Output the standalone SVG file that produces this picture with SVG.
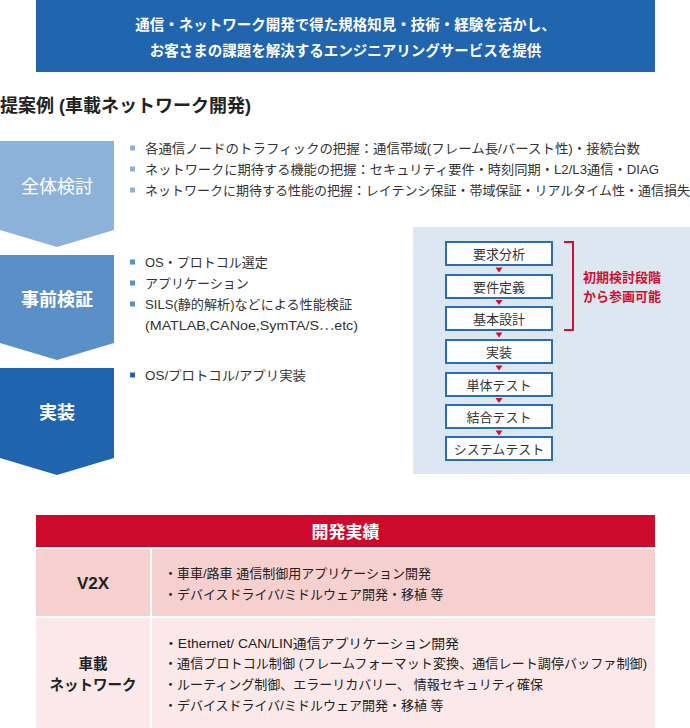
<svg xmlns="http://www.w3.org/2000/svg" width="690" height="728" viewBox="0 0 690 728">
<style>
text{font-family:"Liberation Sans","Noto Sans CJK JP",sans-serif;}
.cjk{font-family:"Noto Sans CJK JP",sans-serif;}
.wb{fill:#fff;font-weight:bold;}
.body{fill:#333;font-size:13px;}
.chev{fill:#fff;font-size:18px;text-anchor:middle;}
.box{fill:#fff;stroke:#2B6CB3;stroke-width:2;}
.bt{fill:#333;font-size:13px;text-anchor:middle;}
.tri{fill:#D0102C;}
.red{fill:#D0102C;font-size:13px;font-weight:bold;}
.tt{fill:#222;font-size:13px;}
</style>
<g id="banner">
<rect x="36" y="0" width="619" height="72" fill="#2065AE"/>
<text class="wb" x="345.5" y="30" font-size="14.5" text-anchor="middle">通信・ネットワーク開発で得た規格知見・技術・経験を活かし、</text>
<text class="wb" x="345.5" y="56" font-size="14.5" text-anchor="middle">お客さまの課題を解決するエンジニアリングサービスを提供</text>
</g>
<g id="title">
<text x="0" y="111.5" font-size="18" font-weight="bold" fill="#222">提案例 (車載ネットワーク開発)</text>
</g>
<g id="stage1">
<path d="M0,141 H114 V230 L57,247 L0,230 Z" fill="#8DB2D9"/>
<text class="chev" x="57" y="193">全体検討</text>
<rect x="130" y="145.5" width="5" height="5" fill="#8DB2D9"/>
<rect x="130" y="166.5" width="5" height="5" fill="#8DB2D9"/>
<rect x="130" y="187.5" width="5" height="5" fill="#8DB2D9"/>
<text class="body" x="145" y="152.5" textLength="495" lengthAdjust="spacingAndGlyphs">各通信ノードのトラフィックの把握：通信帯域(フレーム長/バースト性)・接続台数</text>
<text class="body" x="145" y="173.5" textLength="514" lengthAdjust="spacingAndGlyphs">ネットワークに期待する機能の把握：セキュリティ要件・時刻同期・L2/L3通信・DIAG</text>
<text class="body" x="145" y="194.5" textLength="545" lengthAdjust="spacingAndGlyphs">ネットワークに期待する性能の把握：レイテンシ保証・帯域保証・リアルタイム性・通信損失</text>
</g>
<g id="stage2">
<path d="M0,255 H114 V343 L57,360 L0,343 Z" fill="#5B8FC7"/>
<text class="chev" x="57" y="306" font-weight="bold">事前検証</text>
<rect x="130" y="259.5" width="5" height="5" fill="#5B8FC7"/>
<rect x="130" y="280.5" width="5" height="5" fill="#5B8FC7"/>
<rect x="130" y="301.5" width="5" height="5" fill="#5B8FC7"/>
<text class="body" x="145" y="266.5">OS・プロトコル選定</text>
<text class="body" x="145" y="287.5">アプリケーション</text>
<text class="body" x="145" y="308.5" textLength="207" lengthAdjust="spacingAndGlyphs">SILS(静的解析)などによる性能検証</text>
<text class="body" x="145" y="329.5" font-size="14" textLength="213" lengthAdjust="spacingAndGlyphs">(MATLAB,CANoe,SymTA/S<tspan class="cjk">…</tspan>etc)</text>
</g>
<g id="stage3">
<path d="M0,368 H114 V458 L57,475 L0,458 Z" fill="#1F64AD"/>
<text class="chev" x="57" y="419" font-weight="bold">実装</text>
<rect x="130" y="372.5" width="5" height="5" fill="#1F64AD"/>
<text class="body" x="145" y="379.5" textLength="161" lengthAdjust="spacingAndGlyphs">OS/プロトコル/アプリ実装</text>
</g>
<g id="process-panel">
<rect x="413" y="227" width="277" height="247" fill="#DDE7F2"/>
</g>
<g id="p1"><rect class="box" x="446" y="242" width="106" height="23"/><text class="bt" x="499" y="258.5">要求分析</text></g>
<g id="p2"><rect class="box" x="446" y="275" width="106" height="23"/><text class="bt" x="499" y="291.5">要件定義</text></g>
<g id="p3"><rect class="box" x="446" y="307" width="106" height="23"/><text class="bt" x="499" y="323.5">基本設計</text></g>
<g id="p4"><rect class="box" x="446" y="340" width="106" height="23"/><text class="bt" x="499" y="356.5">実装</text></g>
<g id="p5"><rect class="box" x="446" y="373" width="106" height="23"/><text class="bt" x="499" y="389.5">単体テスト</text></g>
<g id="p6"><rect class="box" x="446" y="405" width="106" height="23"/><text class="bt" x="499" y="421.5">結合テスト</text></g>
<g id="p7"><rect class="box" x="446" y="437" width="106" height="23"/><text class="bt" x="499" y="453.5">システムテスト</text></g>
<g id="connectors">
<path class="tri" d="M495.5,267.5 H502.5 L499,272.5 Z"/>
<path class="tri" d="M495.5,300 H502.5 L499,305 Z"/>
<path class="tri" d="M495.5,332.5 H502.5 L499,337.5 Z"/>
<path class="tri" d="M495.5,365.5 H502.5 L499,370.5 Z"/>
<path class="tri" d="M495.5,398 H502.5 L499,403 Z"/>
<path class="tri" d="M495.5,430.5 H502.5 L499,435.5 Z"/>
</g>
<g id="bracket">
<path d="M564,242 H573 V330 H564" fill="none" stroke="#D0102C" stroke-width="2"/>
<text class="red" x="583" y="281.5">初期検討段階</text>
<text class="red" x="583" y="300.5">から参画可能</text>
</g>
<g id="results-table">
<rect x="36" y="515" width="619" height="32" fill="#CD0A2B"/>
<text class="wb" x="345.5" y="537.5" font-size="17" text-anchor="middle">開発実績</text>
<rect x="36" y="549" width="114" height="67" fill="#F6CFCF"/>
<rect x="152" y="549" width="503" height="67" fill="#F6CFCF"/>
<rect x="36" y="618" width="114" height="110" fill="#FBE8E8"/>
<rect x="152" y="618" width="503" height="110" fill="#FBE8E8"/>
<text x="93" y="588.5" font-size="17" font-weight="bold" fill="#222" text-anchor="middle">V2X</text>
<text x="93" y="669" font-size="14.5" font-weight="bold" fill="#222" text-anchor="middle">車載</text>
<text x="93" y="689.5" font-size="14.5" font-weight="bold" fill="#222" text-anchor="middle">ネットワーク</text>
<text class="tt" x="164" y="577.5">・車車/路車 通信制御用アプリケーション開発</text>
<text class="tt" x="164" y="598.5">・デバイスドライバ/ミドルウェア開発・移植 等</text>
<text class="tt" x="164" y="647.5" textLength="295" lengthAdjust="spacingAndGlyphs">・Ethernet/ CAN/LIN通信アプリケーション開発</text>
<text class="tt" x="164" y="667.5" textLength="483" lengthAdjust="spacingAndGlyphs">・通信プロトコル制御 (フレームフォーマット変換、通信レート調停バッファ制御)</text>
<text class="tt" x="164" y="688.5">・ルーティング制御、エラーリカバリー、 情報セキュリティ確保</text>
<text class="tt" x="164" y="709.5">・デバイスドライバ/ミドルウェア開発・移植 等</text>
</g>
</svg>
